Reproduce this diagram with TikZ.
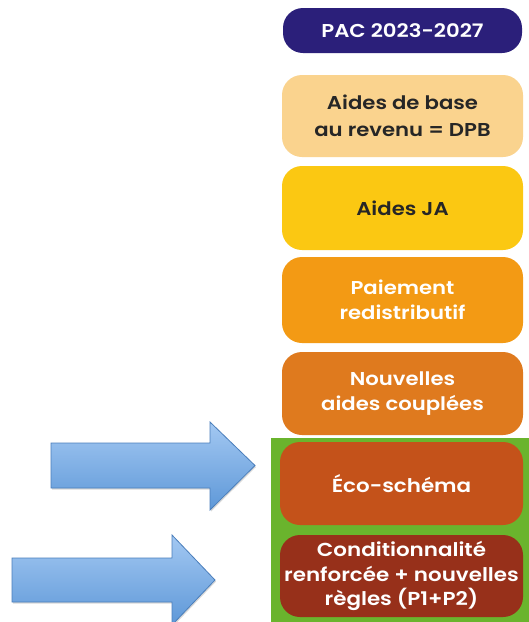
\documentclass[tikz,border=0pt]{standalone}
\usepackage{fontspec}
\setmainfont{Poppins}
\newfontfamily\upfont{Poppins}[FakeStretch=1.14, BoldFont={Poppins SemiBold}]
\usetikzlibrary{shadows}
\definecolor{navy}{HTML}{2B1F7A}
\definecolor{peach}{HTML}{FAD38E}
\definecolor{yel}{HTML}{FBC812}
\definecolor{org}{HTML}{F39A14}
\definecolor{dorg}{HTML}{DF7A1E}
\definecolor{rust}{HTML}{C4521A}
\definecolor{brown}{HTML}{97301A}
\definecolor{grn}{HTML}{6AB42D}
\definecolor{arrtop}{HTML}{A3C8F2}
\definecolor{arrbot}{HTML}{5E98D8}
\definecolor{arrline}{HTML}{4A7EBB}
\tikzset{
  pill/.style={rectangle, rounded corners=20pt, minimum width=241pt, inner sep=2pt,
    align=center, font=\upfont\fontsize{18.6}{25.5}\selectfont\bfseries},
  lowpill/.style={pill, minimum width=243pt, font=\upfont\fontsize{18.8}{24.5}\selectfont\bfseries},
  bigarrow/.style={top color=arrtop, bottom color=arrbot, draw=arrline, line width=0.8pt, line join=miter,
    drop shadow={opacity=0.3, shadow xshift=1pt, shadow yshift=-1.5pt}}
}
\begin{document}
\begin{tikzpicture}[x=1pt,y=-1pt]
\useasboundingbox (0,0) rectangle (529,622);
\fill[white] (0,0) rectangle (529,622);
\fill[grn] (271,438) rectangle (529,622);
\node[pill, fill=navy, text=white, minimum height=45pt, minimum width=239pt] (pac) at (402.5,30.5) {PAC 2023-2027};
\node[pill, fill=peach, text=black!85, minimum height=82pt, font=\upfont\fontsize{18.6}{27}\selectfont\bfseries] (base) at (402.5,116) {Aides de base\\au revenu = DPB};
\node[pill, fill=yel, text=black!85, minimum height=84pt] (ja) at (402.5,208) {Aides JA};
\node[pill, fill=org, text=white, minimum height=86pt] (paie) at (402.5,300) {Paiement\\redistributif};
\node[pill, fill=dorg, text=white, minimum height=83pt] (nouv) at (402.5,393.5) {Nouvelles\\aides couplées};
\node[lowpill, fill=rust, text=white, minimum height=83pt] (eco) at (401.5,483.5) {Éco-schéma};
\node[lowpill, fill=brown, text=white, minimum height=82pt] (cond) at (401.5,576) {Conditionnalité\\renforcée + nouvelles\\règles (P1+P2)};
% arrows
\draw[bigarrow] (51,443) -- (210,443) -- (210,422) -- (255,465.5) -- (210,510) -- (210,488) -- (51,488) -- cycle;
\draw[bigarrow] (12,558) -- (172,558) -- (172,535) -- (215,580) -- (172,625) -- (172,602) -- (12,602) -- cycle;
\end{tikzpicture}
\end{document}
